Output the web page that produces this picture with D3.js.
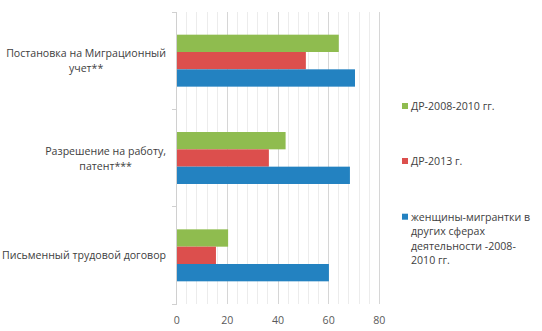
<!DOCTYPE html>
<html><head><meta charset="utf-8">
<script src="https://cdn.jsdelivr.net/npm/d3@7"></script>
<style>body{margin:0;background:#fff}svg{display:block}text{font-family:"Open Sans",sans-serif}</style>
</head><body><svg id="c" width="542" height="331"></svg>
<script>
const categories = [["Постановка на Миграционный","учет**"],["Разрешение на работу,","патент***"],["Письменный трудовой договор"]];
const seriesNames = ["ДР-2008-2010 гг.","ДР-2013 г.","женщины-мигрантки в других сферах деятельности -2008-2010 гг."];
const legendLines = [["ДР-2008-2010 гг."],["ДР-2013 г."],["женщины-мигрантки в","других сферах","деятельности -2008-","2010 гг."]];
const seriesColors = ["#8fbc4f","#dc4f4d","#2382c1"];
const green = [64, 43, 20.3];
const red = [51, 36.4, 15.5];
const blue = [70.4, 68.4, 60.1];
const xTicks = [0,20,40,60,80];
const series = [green, red, blue];

const svg = d3.select("#c");
const x = d3.scaleLinear().domain([0,80]).range([176.7,379.3]);
const y = d3.scaleBand().domain(d3.range(categories.length)).range([12,304]).paddingInner(0.466).paddingOuter(0.233);
const sub = d3.scaleBand().domain(d3.range(series.length)).range([0,y.bandwidth()]);

// minor grid
svg.append("g").selectAll("line").data(d3.range(4,81,4).filter(v=>v%20!==0)).join("line")
  .attr("x1",d=>x(d)).attr("x2",d=>x(d)).attr("y1",12).attr("y2",304)
  .attr("stroke","#ececec").attr("stroke-width",1).attr("shape-rendering","crispEdges");
svg.append("g").selectAll("line").data(xTicks.slice(1)).join("line")
  .attr("x1",d=>x(d)).attr("x2",d=>x(d)).attr("y1",12).attr("y2",304)
  .attr("stroke","#d6d6d6").attr("stroke-width",1).attr("shape-rendering","crispEdges");

// bars
series.forEach((vals,si)=>{
  svg.append("g").selectAll("rect").data(vals).join("rect")
    .attr("x",x(0)).attr("width",d=>x(d)-x(0))
    .attr("y",(d,i)=>y(i)+sub(si)).attr("height",sub.bandwidth())
    .attr("fill",seriesColors[si]);
});

// axis line + ticks
svg.append("line").attr("x1",x(0)).attr("x2",x(0)).attr("y1",12).attr("y2",304).attr("stroke","#d0d0d0").attr("shape-rendering","crispEdges");
svg.append("g").selectAll("line").data(d3.range(categories.length+1)).join("line")
  .attr("x1",x(0)-5).attr("x2",x(0)).attr("y1",d=>12+d*(292/3)).attr("y2",d=>12+d*(292/3))
  .attr("stroke","#d0d0d0").attr("shape-rendering","crispEdges");

// x tick labels
svg.append("g").selectAll("text").data(xTicks).join("text")
  .attr("x",d=>x(d)).attr("y",324).attr("text-anchor","middle")
  .attr("font-size",10.6).attr("fill","#595959").text(d=>d);

// category labels: lines centered within block, block right-aligned near axis
categories.forEach((lines,i)=>{
  const cy = y(i)+y.bandwidth()/2;
  const t = svg.append("text").attr("text-anchor","middle").attr("font-size",10.6).attr("fill","#404040");
  const lh = 15;
  const start = cy - (lines.length-1)*lh/2 + 4;
  const spans = lines.map((l,j)=>t.append("tspan").attr("y",start+j*lh).text(l));
  const w = d3.max(spans, s=>s.node().getComputedTextLength());
  spans.forEach(s=>s.attr("x",166 - w/2));
});

// legend
const legY = [106,161,216.7];
legendLines.forEach((lines,i)=>{
  svg.append("rect").attr("x",402).attr("y",legY[i]-3).attr("width",6).attr("height",6).attr("fill",seriesColors[i]);
  const t = svg.append("text").attr("font-size",10.6).attr("fill","#404040");
  lines.forEach((l,j)=>t.append("tspan").attr("x",411).attr("y",legY[i]+4+j*14.5).text(l));
});
</script></body></html>
